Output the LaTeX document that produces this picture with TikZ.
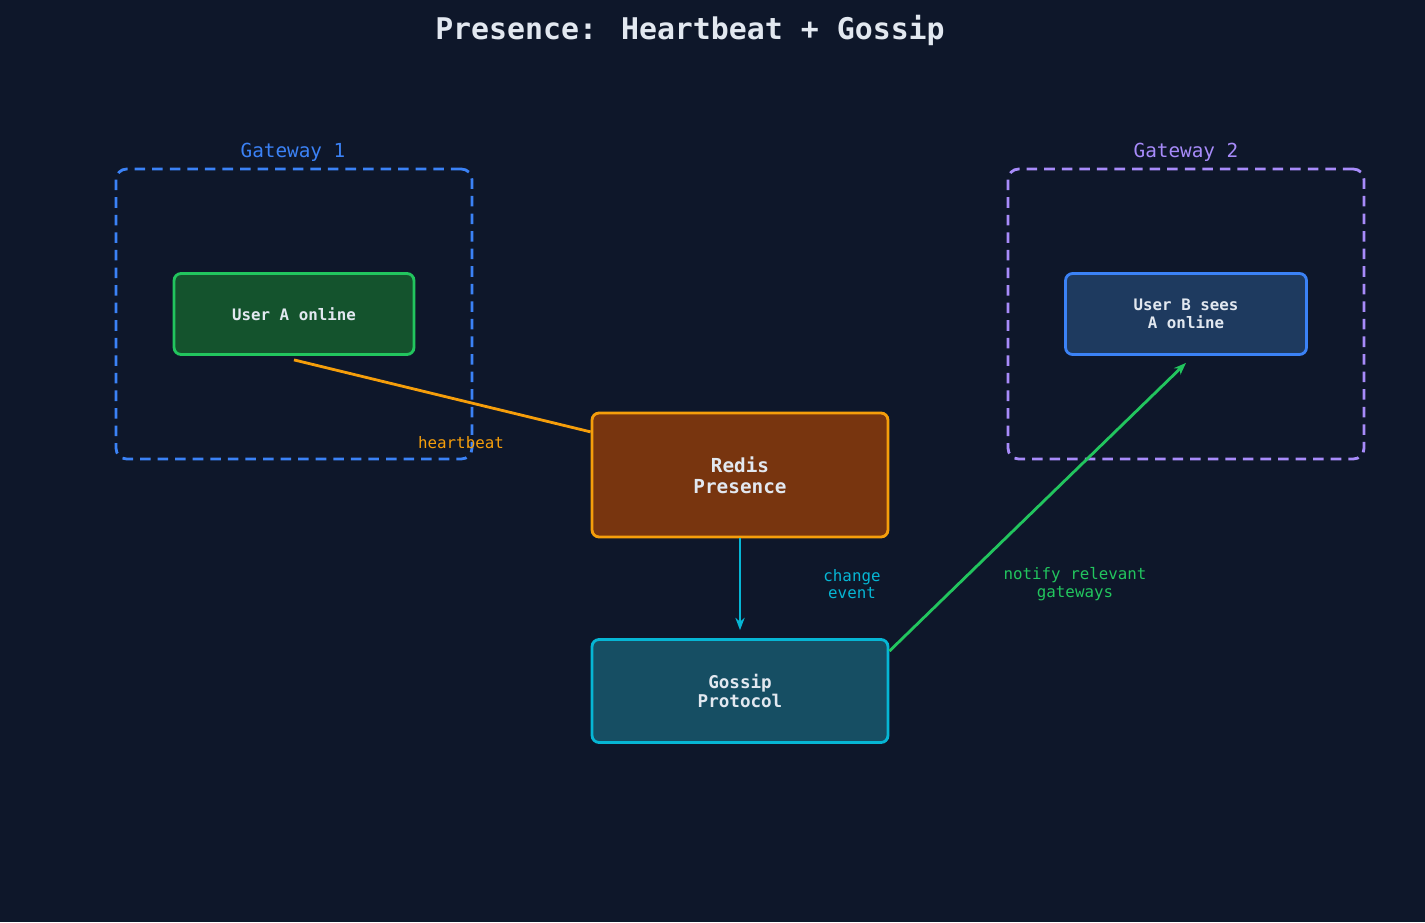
\documentclass[tikz,border=0pt]{standalone}
\usepackage{fontspec}
\setmainfont{DejaVu Sans Mono}
\usetikzlibrary{positioning,calc,arrows.meta}
\definecolor{bg}{HTML}{0E172A}
\definecolor{gwone}{HTML}{3B82F6}
\definecolor{gwtwo}{HTML}{A78BFA}
\definecolor{grn}{HTML}{22C55E}
\definecolor{grnfill}{HTML}{14532D}
\definecolor{bluefill}{HTML}{1E3A5F}
\definecolor{orng}{HTML}{F59E0B}
\definecolor{orngfill}{HTML}{78350F}
\definecolor{cyn}{HTML}{06B6D4}
\definecolor{cynfill}{HTML}{164E63}
\definecolor{txt}{HTML}{E2E8F0}
\tikzset{
  box/.style={rectangle, rounded corners=4pt, line width=1.6pt, align=center,
    text=txt, font=\bfseries\fontsize{9}{10}\selectfont},
  gateway/.style={rectangle, rounded corners=6pt, dashed, dash pattern=on 6pt off 4pt,
    line width=1.6pt, minimum width=7.12cm, minimum height=5.8cm},
  lbl/.style={font=\fontsize{9}{10}\selectfont, align=center},
}
\begin{document}
\begin{tikzpicture}[x=0.02cm,y=-0.02cm]
  \fill[bg] (0,0) rectangle (1425,922);
  \useasboundingbox (0,0) rectangle (1425,922);
  \node[text=txt, font=\bfseries\fontsize{17}{20}\selectfont] (title) at (690,30) {Presence: Heartbeat + Gossip};
  % gateways
  \node[gateway, draw=gwone] (gw1) at (294,314) {};
  \node[text=gwone, font=\fontsize{11}{12}\selectfont] (gw1lbl) at (293,152) {Gateway 1};
  \node[gateway, draw=gwtwo] (gw2) at (1186,314) {};
  \node[text=gwtwo, font=\fontsize{11}{12}\selectfont] (gw2lbl) at (1186,152) {Gateway 2};
  % users
  \node[box, draw=grn, fill=grnfill, minimum width=4.8cm, minimum height=1.62cm] (usera) at (294,314) {User A online};
  \node[box, draw=gwone, fill=bluefill, minimum width=4.82cm, minimum height=1.62cm] (userb) at (1186,314) {User B sees\\A online};
  % redis and gossip
  \node[box, draw=orng, fill=orngfill, minimum width=5.92cm, minimum height=2.48cm,
    font=\bfseries\fontsize{11}{12}\selectfont] (redis) at (740,475) {Redis\\Presence};
  \node[box, draw=cyn, fill=cynfill, minimum width=5.92cm, minimum height=2.06cm,
    font=\bfseries\fontsize{10}{11}\selectfont] (gossip) at (740,691) {Gossip\\Protocol};
  % connectors
  \draw[orng, line width=1.6pt] ([yshift=-0.08cm]usera.south) -- ($(redis.north west)!0.16!(redis.south west)$);
  \node[lbl, text=orng] (hblbl) at (461,443) {heartbeat};
  \draw[cyn, line width=1.6pt, -{Stealth[length=7pt]}] (redis.south) -- ([yshift=0.16cm]gossip.north);
  \node[lbl, text=cyn] (chlbl) at (852,584) {change\\event};
  \draw[grn, line width=1.6pt, -{Stealth[length=7pt]}] ([yshift=-0.26cm]gossip.north east) -- ([yshift=-0.14cm]userb.south);
  \node[lbl, text=grn] (ntlbl) at (1075,584) {notify relevant\\gateways};
\end{tikzpicture}
\end{document}
